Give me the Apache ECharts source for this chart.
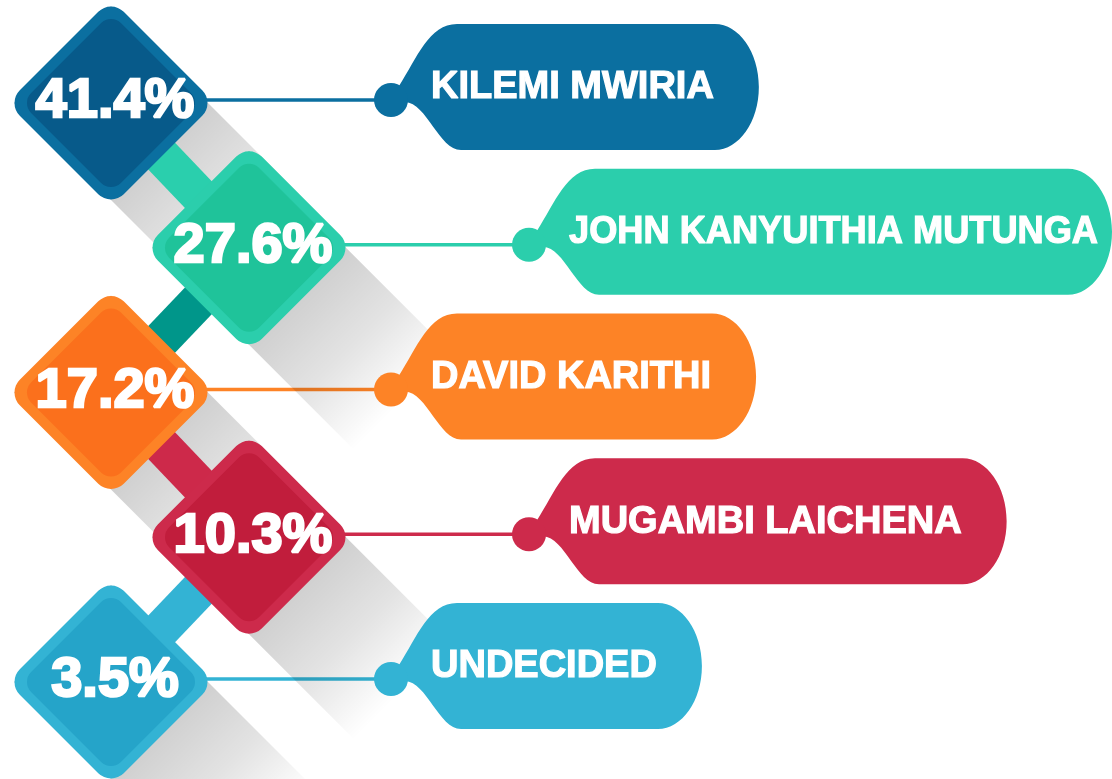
<!DOCTYPE html>
<html>
<head>
<meta charset="utf-8">
<script src="https://cdn.jsdelivr.net/npm/echarts@6/dist/echarts.min.js"></script>
<style>
  html, body { margin: 0; padding: 0; background: #fff; }
  #main { width: 1112px; height: 779px; }
</style>
</head>
<body>
<div id="main"></div>
<script>
// 候选人与支持率
const candidates = ['KILEMI MWIRIA', 'JOHN KANYUITHIA MUTUNGA', 'DAVID KARITHI', 'MUGAMBI LAICHENA', 'UNDECIDED'];
const shares = [41.4, 27.6, 17.2, 10.3, 3.5];

// 配色
const tagColors = ['#0b6fa0', '#2bceac', '#fd8326', '#cd2a4b', '#33b3d4'];
const innerColors = ['#075a8a', '#1fc39a', '#fb701c', '#c11d3c', '#25a4c9'];
const linkColors = ['#2acfad', '#00968a', '#cd294a', '#33b3d4'];

const FONT = '"Liberation Sans", Arial, sans-serif';
const W = 1112;

// 左右交错排列：x = 列, y = 行
const seriesData = shares.map((v, i) => [i % 2, i, v]);

const measureCtx = document.createElement('canvas').getContext('2d');
function textWidth(text, size) {
  measureCtx.font = 'bold ' + size + 'px ' + FONT;
  return measureCtx.measureText(text).width;
}

function renderItem(params, api) {
  const i = params.dataIndex;
  const c = api.coord([api.value(0), api.value(1)]);
  const cx = c[0], cy = c[1];
  const h = 97;        // 菱形半对角线
  const side = 147;
  const ly = cy - 3;   // 引线高度
  const ccx = cx + 280;
  const color = tagColors[i];
  const children = [];

  // 引线
  children.push({
    type: 'line', z2: 1,
    shape: { x1: cx + h - 5, y1: ly, x2: ccx, y2: ly },
    style: { stroke: color, lineWidth: 3.5 }
  });

  // 长投影（沿右下 45° 渐隐）
  const d = 105;
  const tStart = (3 * h) / (2 * (2 * h + d));
  const tEnd = (3 * h + 2 * d) / (2 * (2 * h + d));
  children.push({
    type: 'polygon', z2: 2,
    shape: { points: [[cx, cy - h], [cx + h + d, cy + d], [cx + d, cy + h + d], [cx - h, cy]] },
    style: {
      fill: new echarts.graphic.LinearGradient(0, 0, 1, 1, [
        { offset: 0, color: 'rgba(0,0,0,0.2)' },
        { offset: tStart, color: 'rgba(0,0,0,0.19)' },
        { offset: tStart + (tEnd - tStart) * 0.5, color: 'rgba(0,0,0,0.11)' },
        { offset: tEnd, color: 'rgba(0,0,0,0)' },
        { offset: 1, color: 'rgba(0,0,0,0)' }
      ])
    }
  });

  // 标签
  const tsize = 38;
  const tw = textWidth(candidates[i], tsize);
  const tx = ccx + 40;
  let sx = 1;
  if (tx + tw > W - 14) sx = (W - 14 - tx) / tw;
  const R = Math.min(tx + tw * sx + 45, W);
  const T = ly - 76, B = ly + 50, mid = (T + B) / 2, rx = 44, ry = (B - T) / 2;
  const k = 0.55;
  const path = 'M' + (ccx + 8) + ' ' + (ly - 14) +
    ' C' + (ccx + 26) + ' ' + (ly - 42) + ' ' + (ccx + 38) + ' ' + T + ' ' + (ccx + 66) + ' ' + T +
    ' L' + (R - rx) + ' ' + T +
    ' C' + (R - rx + rx * k) + ' ' + T + ' ' + R + ' ' + (mid - ry * k) + ' ' + R + ' ' + mid +
    ' C' + R + ' ' + (mid + ry * k) + ' ' + (R - rx + rx * k) + ' ' + B + ' ' + (R - rx) + ' ' + B +
    ' L' + (ccx + 70) + ' ' + B +
    ' C' + (ccx + 48) + ' ' + B + ' ' + (ccx + 36) + ' ' + (ly + 3) + ' ' + (ccx + 14) + ' ' + (ly + 2) + ' Z';
  children.push({ type: 'path', z2: 3, shape: { pathData: path }, style: { fill: color } });
  children.push({ type: 'circle', z2: 3.1, shape: { cx: ccx, cy: ly, r: 17 }, style: { fill: color } });
  children.push({
    type: 'text', z2: 3.2, x: tx, y: ly - 12, scaleX: sx,
    style: {
      text: candidates[i], fill: '#fff', stroke: '#fff', lineWidth: 1.2,
      font: 'bold ' + tsize + 'px ' + FONT, align: 'left', verticalAlign: 'middle'
    }
  });

  // 连接条
  if (i < seriesData.length - 1) {
    const n = api.coord(seriesData[i + 1]);
    children.push({
      type: 'line', z2: 4,
      shape: { x1: cx, y1: cy, x2: n[0], y2: n[1] },
      style: { stroke: linkColors[i], lineWidth: 38, lineCap: 'butt' }
    });
  }

  // 菱形
  children.push({
    type: 'rect', z2: 5, x: cx, y: cy, rotation: Math.PI / 4,
    shape: { x: -side / 2, y: -side / 2, width: side, height: side, r: 18 },
    style: { fill: color }
  });
  children.push({
    type: 'rect', z2: 6, x: cx, y: cy, rotation: Math.PI / 4,
    shape: { x: -side / 2 + 10, y: -side / 2 + 10, width: side - 20, height: side - 20, r: 14 },
    style: { fill: innerColors[i] }
  });
  children.push({
    type: 'text', z2: 7, x: cx + 4, y: ly + 2,
    style: {
      text: shares[i].toFixed(1) + '%', fill: '#fff', stroke: '#fff', lineWidth: 2.5,
      font: 'bold 56px ' + FONT, align: 'center', verticalAlign: 'middle'
    }
  });

  return { type: 'group', children: children };
}

const chart = echarts.init(document.getElementById('main'), null, { renderer: 'canvas' });
chart.setOption({
  backgroundColor: '#fff',
  animation: false,
  grid: { left: 111, right: W - 249, top: 103, bottom: 97 },
  xAxis: { type: 'value', min: 0, max: 1, show: false },
  yAxis: { type: 'value', min: 0, max: 4, inverse: true, show: false },
  series: [{
    type: 'custom',
    renderItem: renderItem,
    data: seriesData,
    clip: false,
    silent: true
  }]
});
</script>
</body>
</html>
